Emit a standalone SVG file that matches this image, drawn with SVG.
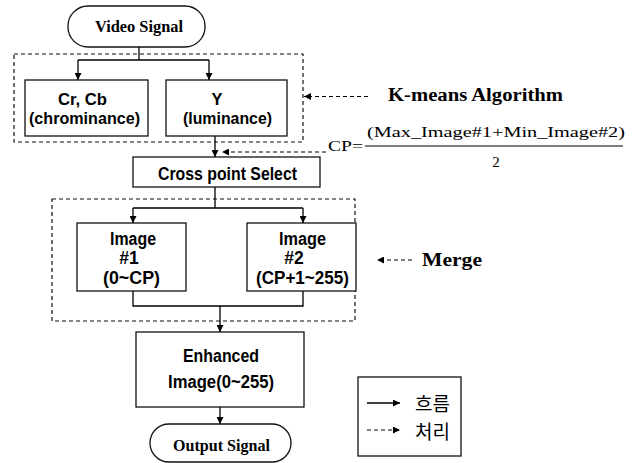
<svg xmlns="http://www.w3.org/2000/svg" width="636" height="463" viewBox="0 0 636 463">
  <defs>
    <marker id="arrow" viewBox="0 0 8 8" refX="8" refY="4" markerWidth="7" markerHeight="7" markerUnits="userSpaceOnUse" orient="auto">
      <path d="M0,0 L8,4 L0,8 Z" fill="#000"/>
    </marker>
  </defs>
  <style>
    .box { fill: #fff; stroke: #111; stroke-width: 1.3; }
    .group { fill: none; stroke: #111; stroke-width: 1.2; stroke-dasharray: 4 3; }
    .flow { fill: none; stroke: #000; stroke-width: 1.3; }
    .proc { fill: none; stroke: #000; stroke-width: 1.2; stroke-dasharray: 4 3; }
    .lbl { font-family: "Liberation Sans", Arial, sans-serif; font-weight: bold; font-size: 17.5px; fill: #000; text-anchor: middle; }
    .lbl.sm { font-size: 16.5px; }
    .term { font-family: "Liberation Serif", "Times New Roman", serif; font-weight: bold; font-size: 16px; fill: #000; text-anchor: middle; }
    .note { font-family: "Liberation Serif", "Times New Roman", serif; font-weight: bold; font-size: 18px; fill: #000; }
    .eq { font-family: "Liberation Serif", "Times New Roman", serif; font-size: 15px; fill: #000; }
    .kr { font-family: "Noto Sans CJK KR", sans-serif; font-size: 19px; fill: #000; }
  </style>

  <!-- dashed grouping frames -->
  <g id="kmeans-group">
    <rect class="group" x="14" y="54" width="289" height="88"/>
  </g>
  <g id="merge-group">
    <rect class="group" x="52" y="199" width="303" height="122"/>
  </g>

  <!-- connectors -->
  <g id="connectors">
    <path class="flow" d="M139,47 V60 M78,60 H209"/>
    <path class="flow" d="M78,60 V80" marker-end="url(#arrow)"/>
    <path class="flow" d="M209,60 V80" marker-end="url(#arrow)"/>
    <path class="flow" d="M215,136 V157" marker-end="url(#arrow)"/>
    <path class="flow" d="M215,187 V208 M133,208 H303"/>
    <path class="flow" d="M133,208 V223" marker-end="url(#arrow)"/>
    <path class="flow" d="M303,208 V223" marker-end="url(#arrow)"/>
    <path class="flow" d="M133,291 V306 H303 V291"/>
    <path class="flow" d="M220,306 V332" marker-end="url(#arrow)"/>
    <path class="flow" d="M220,407 V424" marker-end="url(#arrow)"/>
    <path class="proc" d="M368,96.5 H304" marker-end="url(#arrow)"/>
    <path class="proc" d="M326,152 H222" marker-end="url(#arrow)"/>
    <path class="proc" d="M412,260 H377" marker-end="url(#arrow)"/>
  </g>

  <!-- nodes -->
  <g id="video-signal">
    <rect class="box" x="68" y="6" width="137" height="41" rx="20"/>
    <text class="term" x="139" y="32" textLength="88" lengthAdjust="spacingAndGlyphs">Video Signal</text>
  </g>
  <g id="chrominance">
    <rect class="box" x="25" y="80" width="123" height="56"/>
    <text class="lbl sm" x="82.5" y="104.5" textLength="49" lengthAdjust="spacingAndGlyphs">Cr, Cb</text>
    <text class="lbl sm" x="84.5" y="124" textLength="111" lengthAdjust="spacingAndGlyphs">(chrominance)</text>
  </g>
  <g id="luminance">
    <rect class="box" x="166" y="80" width="121" height="56"/>
    <text class="lbl sm" x="217" y="104.5">Y</text>
    <text class="lbl sm" x="227.5" y="124" textLength="89" lengthAdjust="spacingAndGlyphs">(luminance)</text>
  </g>
  <g id="cross-point-select">
    <rect class="box" x="133" y="157" width="187" height="30"/>
    <text class="lbl" x="227.5" y="180" textLength="139" lengthAdjust="spacingAndGlyphs">Cross point Select</text>
  </g>
  <g id="image-1">
    <rect class="box" x="77" y="223" width="109" height="68"/>
    <text class="lbl" x="133" y="245" textLength="46" lengthAdjust="spacingAndGlyphs">Image</text>
    <text class="lbl" x="129" y="264">#1</text>
    <text class="lbl" x="131.5" y="284" textLength="57" lengthAdjust="spacingAndGlyphs">(0~CP)</text>
  </g>
  <g id="image-2">
    <rect class="box" x="247" y="223" width="109" height="68"/>
    <text class="lbl" x="302.5" y="245" textLength="47" lengthAdjust="spacingAndGlyphs">Image</text>
    <text class="lbl" x="294" y="264">#2</text>
    <text class="lbl" x="302.5" y="284" textLength="93" lengthAdjust="spacingAndGlyphs">(CP+1~255)</text>
  </g>
  <g id="enhanced-image">
    <rect class="box" x="136" y="332" width="168" height="75"/>
    <text class="lbl" x="221" y="362" textLength="76" lengthAdjust="spacingAndGlyphs">Enhanced</text>
    <text class="lbl" x="221" y="388" textLength="106" lengthAdjust="spacingAndGlyphs">Image(0~255)</text>
  </g>
  <g id="output-signal">
    <rect class="box" x="150" y="424" width="141" height="38" rx="19"/>
    <text class="term" x="221.5" y="451" textLength="97" lengthAdjust="spacingAndGlyphs">Output Signal</text>
  </g>

  <!-- side notes -->
  <g id="kmeans-note">
    <text class="note" x="388" y="101" textLength="175" lengthAdjust="spacingAndGlyphs">K-means Algorithm</text>
  </g>
  <g id="cp-formula">
    <text class="eq" x="328" y="151" textLength="35" lengthAdjust="spacingAndGlyphs">CP=</text>
    <text class="eq" x="367" y="137" textLength="258" lengthAdjust="spacingAndGlyphs">(Max_Image#1+Min_Image#2)</text>
    <line x1="365" y1="146" x2="623" y2="146" stroke="#000" stroke-width="1.2"/>
    <text class="eq" x="496" y="167" text-anchor="middle">2</text>
  </g>
  <g id="merge-note">
    <text class="note" x="422" y="266" textLength="60" lengthAdjust="spacingAndGlyphs">Merge</text>
  </g>

  <!-- legend -->
  <g id="legend">
    <rect class="box" x="358" y="377" width="103" height="79"/>
    <path class="flow" d="M367,403 H400" marker-end="url(#arrow)"/>
    <path class="proc" d="M367,430 H400" marker-end="url(#arrow)"/>
    <text class="kr" x="415" y="411">흐름</text>
    <text class="kr" x="415" y="439">처리</text>
  </g>
</svg>
